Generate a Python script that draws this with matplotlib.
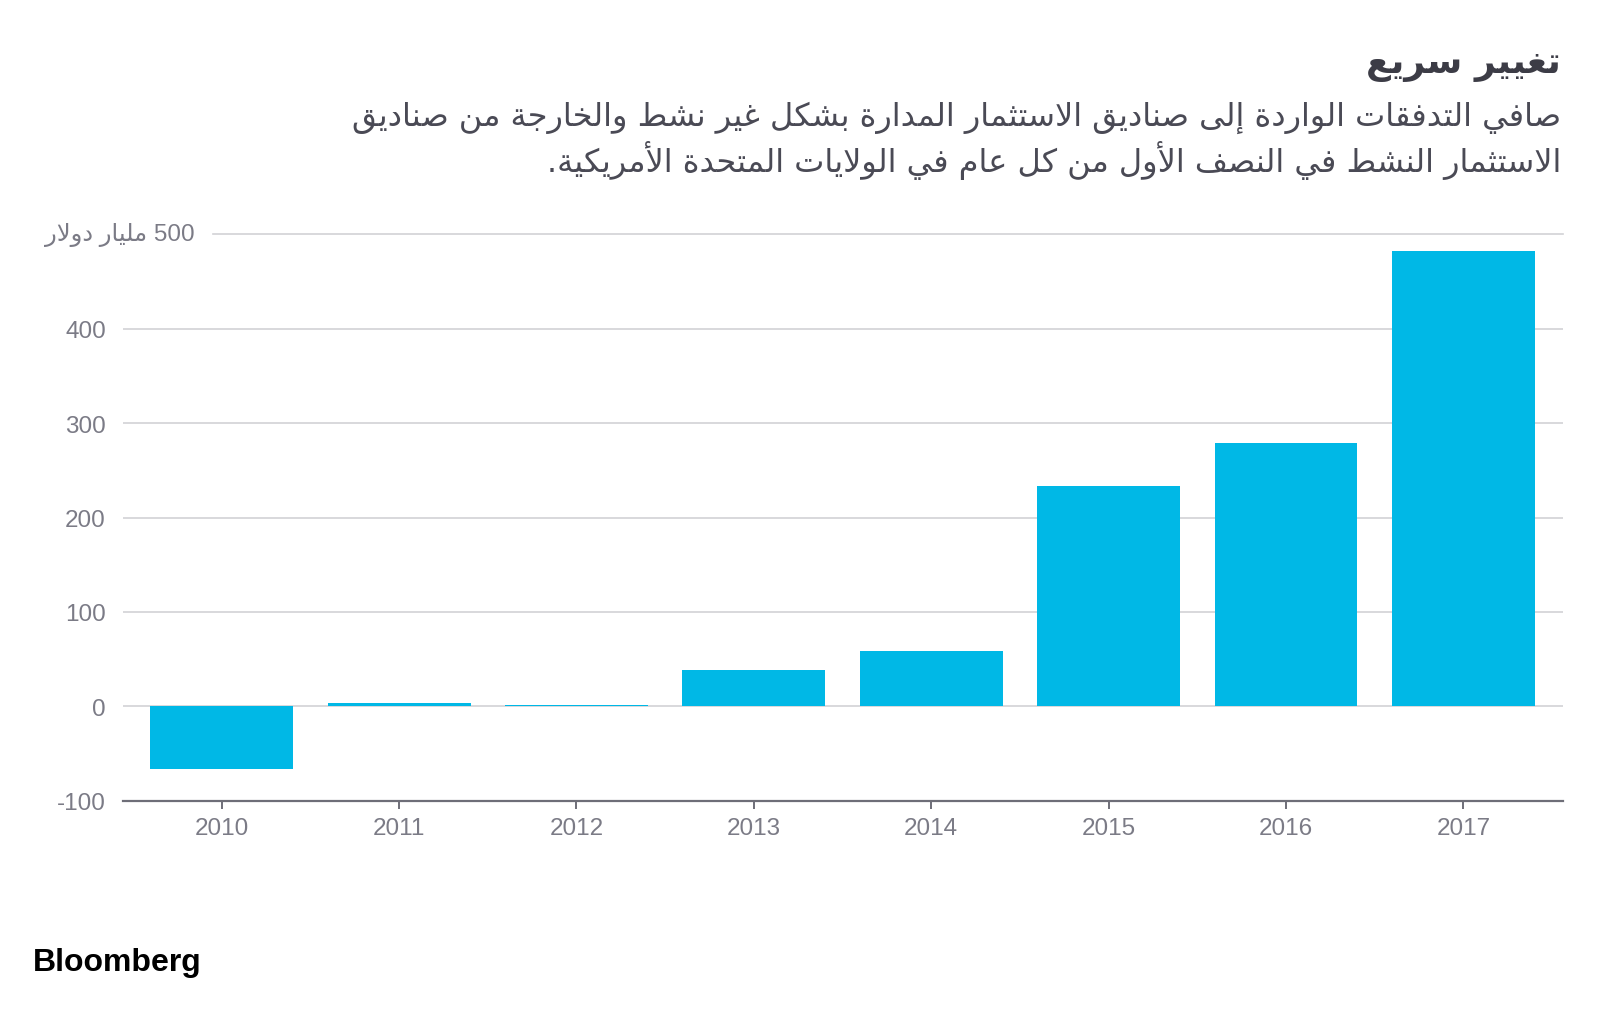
import matplotlib.pyplot as plt
from matplotlib.transforms import blended_transform_factory

# بيانات الرسم
years = ['2010', '2011', '2012', '2013', '2014', '2015', '2016', '2017']
flows = [-66, 3.5, 1.5, 38, 59, 233, 279, 482]
yticks = [-100, 0, 100, 200, 300, 400]
grid_vals = [0, 100, 200, 300, 400]
top_val = 500

title = 'تغيير سريع'
sub1 = 'صافي التدفقات الواردة إلى صناديق الاستثمار المدارة بشكل غير نشط والخارجة من صناديق'
sub2 = 'الاستثمار النشط في النصف الأول من كل عام في الولايات المتحدة الأمريكية.'
unit = 'مليار دولار'

# matplotlib لا يشكل الحروف العربية، فنستخدم أشكال العرض (Presentation Forms-B)
letters = 'ءآأؤإئابةتثجحخدذرزسشصضطظعغفقكلمنهوىي'
nforms = [1, 2, 2, 2, 2, 4, 2, 4, 2, 4, 4, 4, 4, 4, 2, 2, 2, 2, 4, 4, 4, 4,
          4, 4, 4, 4, 4, 4, 4, 4, 4, 4, 4, 2, 2, 4]
FORMS = {}
code = 0xFE80
for ch, k in zip(letters, nforms):
    FORMS[ch] = [chr(code + j) for j in range(k)]
    code += k
LAM_ALEF = {'آ': 0xFEF5, 'أ': 0xFEF7, 'إ': 0xFEF9, 'ا': 0xFEFB}


def shape(text):
    res = []
    i = 0
    n = len(text)
    while i < n:
        c = text[i]
        if c not in FORMS:
            res.append(c)
            i += 1
            continue
        prev = text[i - 1] if i > 0 else ''
        jp = prev in FORMS and len(FORMS[prev]) == 4
        if c == 'ل' and i + 1 < n and text[i + 1] in LAM_ALEF:
            res.append(chr(LAM_ALEF[text[i + 1]] + int(jp)))
            i += 2
            continue
        f = FORMS[c]
        nxt = text[i + 1] if i + 1 < n else ''
        jn = len(f) == 4 and nxt in FORMS and nxt != 'ء'
        if jp and jn:
            res.append(f[3])
        elif jp:
            res.append(f[1])
        elif jn:
            res.append(f[2])
        else:
            res.append(f[0])
        i += 1
    return ''.join(res)[::-1]


W, H = 1600, 1012
fig = plt.figure(figsize=(16, 10.12), dpi=100)
fig.patch.set_facecolor('white')

L, R = 123.3, 1562.7
B, T = 801.7, 235.3
ax = fig.add_axes([L / W, 1 - B / H, (R - L) / W, (B - T) / H])

latin = ['Liberation Sans', 'DejaVu Sans']
grey = '#7b7b86'
grid_c = '#d2d2d6'
bar_c = '#00b8e6'

x = list(range(len(years)))
for v in grid_vals:
    ax.axhline(v, color=grid_c, lw=1.2, zorder=1)
ax.axhline(top_val, xmin=(213.3 - L) / (R - L), color=grid_c, lw=1.2, zorder=1,
           clip_on=False)
ax.bar(x, flows, width=0.805, color=bar_c, zorder=2)

ax.set_xlim(-0.555, 7.56)
ax.set_ylim(-100, 500)
for s in ['top', 'right', 'left']:
    ax.spines[s].set_visible(False)
ax.spines['bottom'].set_color('#6e6e78')
ax.spines['bottom'].set_linewidth(1.6)

ax.set_xticks(x)
ax.set_xticklabels(years, fontfamily=latin, fontsize=17.5, color=grey)
ax.tick_params(axis='x', length=5.5, width=1.4, color='#6e6e78', pad=6)
ax.set_yticks(yticks)
ax.set_yticklabels([str(v) for v in yticks], fontfamily=latin, fontsize=17.5, color=grey)
ax.tick_params(axis='y', length=0, pad=12.5)

tr = blended_transform_factory(ax.transAxes, ax.transData)
ax.text((195 - L) / (R - L), top_val, shape(unit) + ' 500', transform=tr,
        ha='right', va='center', fontfamily=latin, fontsize=17.5, color=grey)

fig.text(1561 / W, 1 - 65 / H, shape(title), ha='right', va='center',
         fontfamily='DejaVu Sans', fontweight='bold', fontsize=26, color='#3c3c46')
fig.text(1561 / W, 1 - 118 / H, shape(sub1), ha='right', va='center',
         fontfamily='DejaVu Sans', fontsize=23, color='#4a4a55')
fig.text(1561 / W, 1 - 160 / H, shape(sub2), ha='right', va='center',
         fontfamily='DejaVu Sans', fontsize=23, color='#4a4a55')

fig.text(33 / W, 1 - 963 / H, 'Bloomberg', ha='left', va='center',
         fontfamily='Liberation Sans', fontweight='bold', fontsize=23, color='black')

fig.savefig('out.png', dpi=100, facecolor='white')
